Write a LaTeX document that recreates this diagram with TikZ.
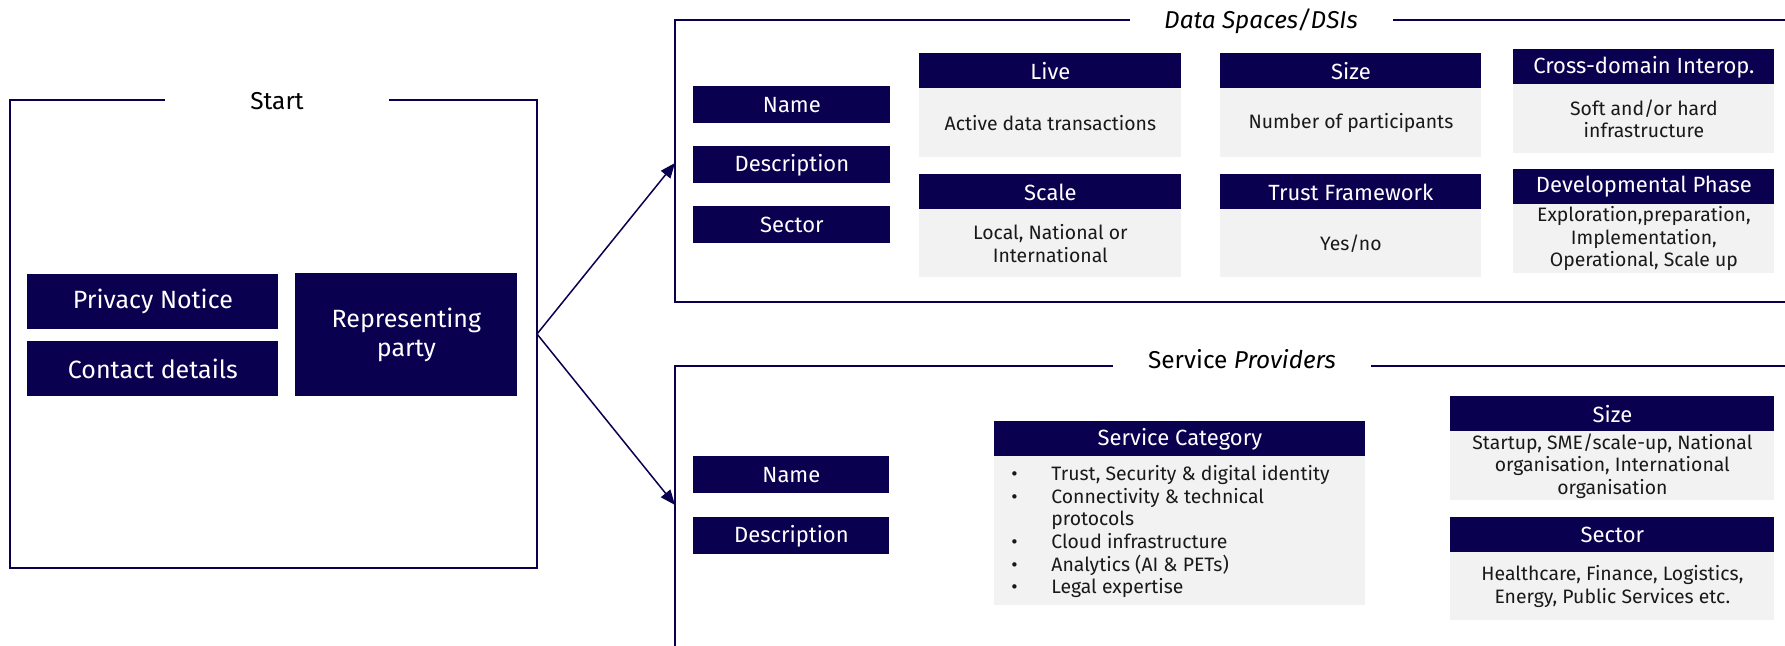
\documentclass[tikz,border=0pt]{standalone}
\usepackage{fontspec}
\setmainfont{Fira Sans}
\usetikzlibrary{arrows.meta}
\definecolor{navy}{RGB}{10,0,80}
\definecolor{bodygray}{RGB}{242,242,242}
\definecolor{txt}{RGB}{25,25,25}
\begin{document}
\begin{tikzpicture}[x=0.5pt,y=-0.5pt,
  frame/.style={draw=navy, line width=1.2pt},
  sz/.style 2 args={minimum width=#1*0.5pt, minimum height=#2*0.5pt},
  hdr/.style={fill=navy, text=white, inner sep=0pt, anchor=north west, align=center,
    font=\fontsize{11pt}{13pt}\selectfont},
  big/.style={hdr, font=\fontsize{12.5pt}{14.5pt}\selectfont},
  bodybox/.style={fill=bodygray, text=txt, inner sep=0pt, anchor=north west, align=center,
    font=\fontsize{9.7pt}{11.2pt}\selectfont},
  ttl/.style={text=black, inner sep=0pt, anchor=base, font=\fontsize{12.2pt}{14.5pt}\selectfont},
  conn/.style={draw=navy, line width=0.75pt, -{Triangle[length=7.5pt,width=6pt]}},
]
\path[use as bounding box] (0,0) rectangle (1785,646);
\clip (0,0) rectangle (1785,646);

% Start frame
\draw[frame] (165,100) -- (10,100) -- (10,568) -- (537,568) -- (537,100) -- (389,100);
\node[ttl] (start) at (277,110) {Start};
\node[big, sz={251}{55}] (privacy) at (27,274) {Privacy Notice};
\node[big, sz={251}{55}] (contact) at (27,341) {Contact details};
\node[big, sz={222}{123}] (party) at (295,273) {Representing\\party};

% Data Spaces frame
\draw[frame] (1130,20) -- (675,20) -- (675,302) -- (1800,302);
\draw[frame] (1393,20) -- (1800,20);
\node[ttl] (ds-title) at (1261,29) {\itshape Data Spaces/DSIs};
\node[hdr, sz={197}{37}] (ds-name) at (693,86) {Name};
\node[hdr, sz={197}{37}] (ds-desc) at (693,146) {Description};
\node[hdr, sz={197}{37}] (ds-sector) at (693,206) {Sector};

\node[hdr, sz={262}{35}] (live-h) at (919,53) {Live};
\node[bodybox, sz={262}{69}] (live-b) at (919,88) {Active data transactions};
\node[hdr, sz={262}{35}] (scale-h) at (919,174) {Scale};
\node[bodybox, sz={262}{68}] (scale-b) at (919,209) {Local, National or\\International};
\node[hdr, sz={261}{35}] (size-h) at (1220,53) {Size};
\node[bodybox, sz={261}{69}] (size-b) at (1220,88) {Number of participants};
\node[hdr, sz={261}{35}] (trust-h) at (1220,174) {Trust Framework};
\node[bodybox, sz={261}{68}] (trust-b) at (1220,209) {Yes/no};
\node[hdr, sz={261}{35}] (cross-h) at (1513,49) {Cross-domain Interop.};
\node[bodybox, sz={261}{69}] (cross-b) at (1513,84) {Soft and/or hard\\infrastructure};
\node[hdr, sz={261}{35}] (dev-h) at (1513,169) {Developmental Phase};
\node[bodybox, sz={261}{69}] (dev-b) at (1513,204) {Exploration,preparation,\\Implementation,\\Operational, Scale up};

% Service Providers frame
\draw[frame] (1113,366) -- (675,366) -- (675,660);
\draw[frame] (1371,366) -- (1800,366);
\node[ttl] (sp-title) at (1242,369) {Service \textit{Providers}};
\node[hdr, sz={196}{37}] (sp-name) at (693,456) {Name};
\node[hdr, sz={196}{37}] (sp-desc) at (693,517) {Description};

\node[hdr, sz={371}{35}] (cat-h) at (994,421) {Service Category};
\node[bodybox, sz={371}{149}] (cat-b) at (994,456) {};
\node[text=txt, inner sep=0pt, anchor=base west, align=left,
  font=\fontsize{9.7pt}{11.2pt}\selectfont] (cat-list) at (1011,481) {%
  \begin{tabular}[t]{@{}p{20pt}@{}l@{}}
  \textbullet & Trust, Security \& digital identity\\
  \textbullet & Connectivity \& technical\\
   & protocols\\
  \textbullet & Cloud infrastructure\\
  \textbullet & Analytics (AI \& PETs)\\
  \textbullet & Legal expertise
  \end{tabular}};

\node[hdr, sz={324}{35}] (spsize-h) at (1450,396) {Size};
\node[bodybox, sz={324}{69}] (spsize-b) at (1450,431) {Startup, SME/scale-up, National\\organisation, International\\organisation};
\node[hdr, sz={324}{35}] (spsec-h) at (1450,517) {Sector};
\node[bodybox, sz={324}{68}] (spsec-b) at (1450,552) {Healthcare, Finance, Logistics,\\Energy, Public Services etc.};

% connectors
\coordinate (fork) at (537,334);
\coordinate (ds-in) at (675,163);
\coordinate (sp-in) at (675,505);
\draw[conn] (fork) -- (ds-in);
\draw[conn] (fork) -- (sp-in);
\end{tikzpicture}
\end{document}
